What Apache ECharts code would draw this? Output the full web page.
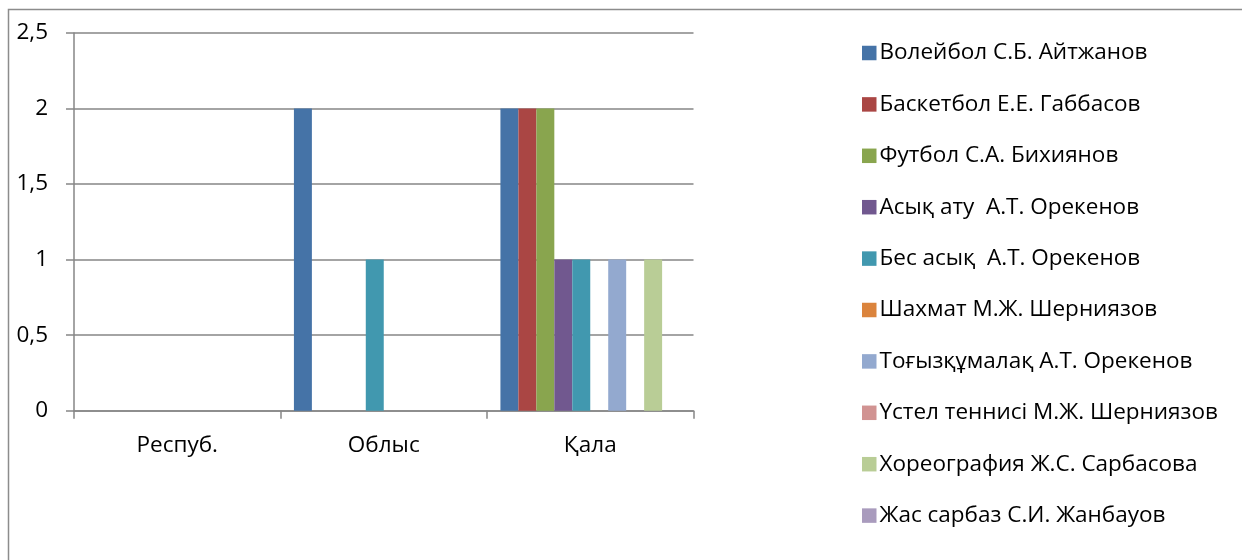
<!DOCTYPE html>
<html><head><meta charset="utf-8">
<script src="https://cdn.jsdelivr.net/npm/echarts@6/dist/echarts.min.js"></script>
<style>html,body{margin:0;padding:0;background:#fff}#c{width:1242px;height:560px}</style>
</head><body><div id="c"></div>
<script>
const categories = ['Респуб.', 'Облыс', 'Қала'];
const seriesNames = [
  'Волейбол С.Б. Айтжанов',
  'Баскетбол Е.Е. Габбасов',
  'Футбол С.А. Бихиянов',
  'Асық ату  А.Т. Орекенов',
  'Бес асық  А.Т. Орекенов',
  'Шахмат М.Ж. Шерниязов',
  'Тоғызқұмалақ А.Т. Орекенов',
  'Үстел теннисі М.Ж. Шерниязов',
  'Хореография Ж.С. Сарбасова',
  'Жас сарбаз С.И. Жанбауов'
];
const volleyball = [0, 2, 2];
const basketball = [0, 0, 2];
const football = [0, 0, 2];
const asykAtu = [0, 0, 1];
const besAsyk = [0, 1, 1];
const chess = [0, 0, 0];
const togyz = [0, 0, 1];
const tableTennis = [0, 0, 0];
const choreography = [0, 0, 1];
const zhasSarbaz = [0, 0, 0];
const seriesValues = [volleyball, basketball, football, asykAtu, besAsyk, chess, togyz, tableTennis, choreography, zhasSarbaz];
const colors = ['#4573A7','#AA4644','#89A54E','#71588F','#4198AF','#DB843D','#93A9CF','#D19392','#B9CD96','#A99BBD'];
const yTicks = [0, 0.5, 1, 1.5, 2, 2.5];

const FONT = 'Open Sans';
const FS = 22.5;
const chart = echarts.init(document.getElementById('c'), null, {renderer: 'canvas'});
chart.setOption({
  animation: false,
  color: colors,
  graphic: [{
    type: 'rect', shape: {x: 8.5, y: 9.5, width: 1300, height: 700},
    style: {fill: 'none', stroke: '#8c8c8c', lineWidth: 1.5}, silent: true
  }],
  grid: {left: 74, right: 548.5, top: 33, bottom: 149.3, containLabel: false},
  legend: {
    orient: 'vertical', left: 857, top: 36.5,
    itemWidth: 14.5, itemHeight: 14.5, itemGap: 28.4,
    icon: 'rect',
    textStyle: {fontFamily: FONT, fontSize: FS, color: '#000', lineHeight: 22, padding: [0,0,0,-2]},
    data: seriesNames
  },
  xAxis: {
    type: 'category', data: categories,
    axisLine: {show: true, lineStyle: {color: '#868686', width: 1.5}},
    axisTick: {show: true, length: 8, lineStyle: {color: '#868686', width: 1.5}},
    axisLabel: {fontFamily: FONT, fontSize: FS, color: '#000', margin: 23}
  },
  yAxis: {
    type: 'value', min: 0, max: 2.5, interval: 0.5,
    axisLine: {show: true, lineStyle: {color: '#868686', width: 1.5}},
    axisTick: {show: true, length: 8, lineStyle: {color: '#868686', width: 1.5}},
    splitLine: {show: true, lineStyle: {color: '#868686', width: 1.5}},
    axisLabel: {fontFamily: FONT, fontSize: FS, color: '#000', margin: 26,
      formatter: v => String(v).replace('.', ',')}
  },
  series: seriesNames.map((n, i) => ({
    name: n, type: 'bar', data: seriesValues[i],
    barGap: '0%', barCategoryGap: '13%'
  }))
});
</script></body></html>
